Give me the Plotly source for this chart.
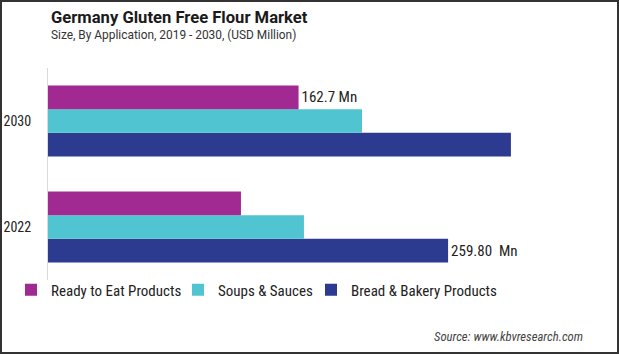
import plotly.graph_objects as go

years = ["2022", "2030"]
series_names = ["Bread & Bakery Products", "Soups & Sauces", "Ready to Eat Products"]
bread = [259.8, 300.6]
soups = [166.2, 203.9]
ready = [125.3, 162.7]
bread_labels = ["259.80  Mn", ""]
soups_labels = ["", ""]
ready_labels = ["", "162.7 Mn"]
colors = ["#2C3A90", "#50C4D0", "#A02A91"]

NARROW = "Liberation Sans Narrow, Roboto Condensed, Roboto"

W, H = 619, 354
L, R, T, B = 48, 19, 68, 74
pw, ph = W - L - R, H - T - B

def px_x(p):
    return (p - L) / pw

def px_y(p):
    return (H - B - p) / ph

legend_ids = ["legend3", "legend2", "legend"]
legend_text_x = {"legend": 52, "legend2": 219, "legend3": 352}

fig = go.Figure()
for name, vals, labs, col, lg in zip(series_names, [bread, soups, ready],
                                      [bread_labels, soups_labels, ready_labels], colors,
                                      legend_ids):
    fig.add_trace(go.Bar(
        y=years, x=vals, name=name, orientation="h", legend=lg,
        marker=dict(color=col, line=dict(width=0)),
        text=labs, textposition="outside", cliponaxis=False,
        textfont=dict(family=NARROW, size=15, color="#222"),
    ))

legend_common = dict(orientation="h", yanchor="middle", xanchor="left",
                     font=dict(family=NARROW, size=15, color="#222"),
                     itemwidth=30, bgcolor="rgba(0,0,0,0)")

layout_legends = {}
for lg, tx in legend_text_x.items():
    layout_legends[lg] = dict(legend_common, x=px_x(tx - 41), y=px_y(290))

fig.update_layout(
    width=W, height=H,
    margin=dict(l=L, r=R, t=T, b=B, autoexpand=False),
    paper_bgcolor="white", plot_bgcolor="white",
    barmode="group", bargap=0.33, bargroupgap=0,
    font=dict(family=NARROW, size=14, color="#222"),
    showlegend=True,
    **layout_legends,
    xaxis=dict(range=[0, pw / 1.54], visible=False, showgrid=False, zeroline=False,
               automargin=False),
    yaxis=dict(showline=True, linecolor="#d9d9d9", linewidth=1, showgrid=False,
               ticks="", ticklabelstandoff=13, automargin=False,
               tickfont=dict(family=NARROW, size=14, color="#222"),
               categoryorder="array", categoryarray=years),
    shapes=[dict(type="rect", xref="paper", yref="paper",
                 x0=px_x(1), x1=px_x(W - 1), y0=px_y(H - 1), y1=px_y(1),
                 line=dict(color="#333", width=2), fillcolor="rgba(0,0,0,0)", layer="above")],
    annotations=[
        dict(text="<b>Germany Gluten Free Flour Market</b>", xref="paper", yref="paper",
             x=px_x(49), y=px_y(17), xanchor="left", yanchor="middle", showarrow=False,
             font=dict(family="Roboto", size=16.6, color="#1a1a1a")),
        dict(text="Size, By Application, 2019 - 2030, (USD Million)", xref="paper", yref="paper",
             x=px_x(49), y=px_y(35), xanchor="left", yanchor="middle", showarrow=False,
             font=dict(family="Roboto", size=11.9, color="#333")),
        dict(text="<i>Source: www.kbvresearch.com</i>", xref="paper", yref="paper",
             x=px_x(585), y=px_y(336), xanchor="right", yanchor="middle", showarrow=False,
             font=dict(family=NARROW, size=12.7, color="#444")),
    ],
)

fig.write_html("out.html")
